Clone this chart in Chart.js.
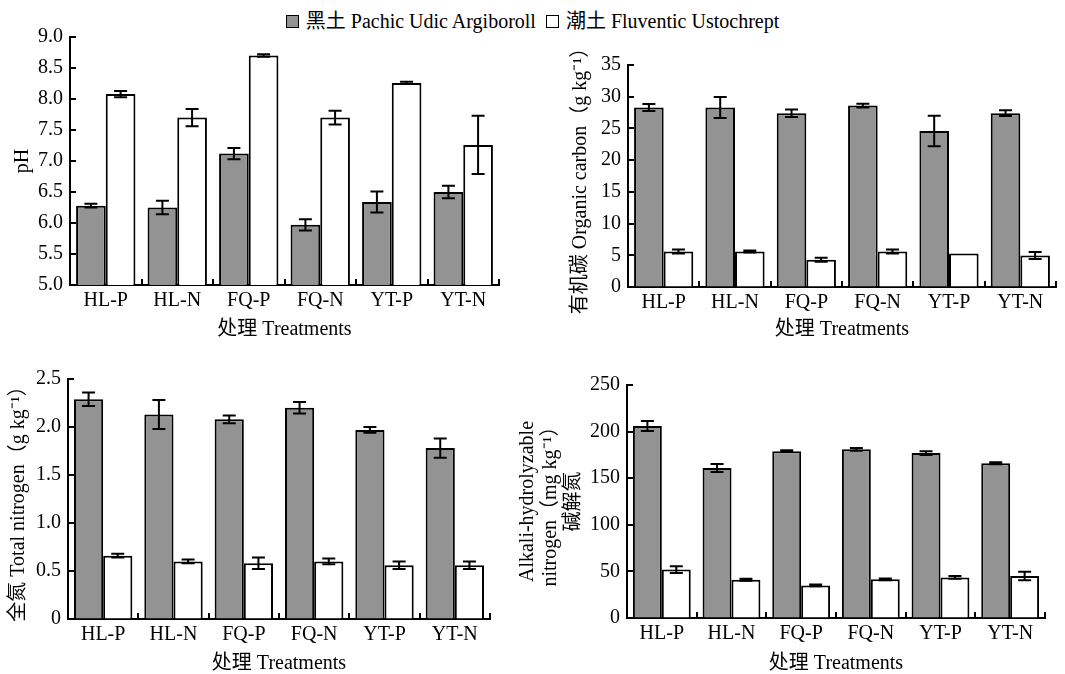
<!DOCTYPE html>
<html>
<head>
<meta charset="utf-8">
<script src="https://cdn.jsdelivr.net/npm/chart.js@4.4.1/dist/chart.umd.min.js"></script>
<style>
body { margin: 0; background: #fff; width: 1065px; height: 674px; overflow: hidden; position: relative;
       font-family: "Liberation Serif", "Noto Sans CJK SC", serif; }
canvas { position: absolute; }
#legend { position: absolute; top: 5px; left: 0; width: 1065px; text-align: center; font-size: 20px; color: #000; }
.box { display: inline-block; width: 11px; height: 11px; border: 1.5px solid #000; vertical-align: 0px; margin-right: 7px; }
</style>
</head>
<body>
<div id="legend"><span class="box" style="background:#939393"></span>黑土 Pachic Udic Argiboroll&nbsp;&nbsp;<span class="box" style="background:#fff"></span>潮土 Fluventic Ustochrept</div>
<canvas id="c1" width="530" height="345" style="left:0px;top:10px"></canvas>
<canvas id="c2" width="530" height="345" style="left:535px;top:10px"></canvas>
<canvas id="c3" width="530" height="330" style="left:0px;top:350px"></canvas>
<canvas id="c4" width="560" height="330" style="left:505px;top:350px"></canvas>
<script>
const categories = ['HL-P', 'HL-N', 'FQ-P', 'FQ-N', 'YT-P', 'YT-N'];
const seriesNames = ['黑土 Pachic Udic Argiboroll', '潮土 Fluventic Ustochrept'];

// pH
const phHei = [6.28, 6.25, 7.12, 5.97, 6.34, 6.50];
const phHeiErr = [0.03, 0.11, 0.09, 0.09, 0.17, 0.10];
const phChao = [8.08, 7.70, 8.70, 7.70, 8.26, 7.26];
const phChaoErr = [0.05, 0.14, 0.02, 0.11, 0.02, 0.47];
const phTicks = ['5.0', '5.5', '6.0', '6.5', '7.0', '7.5', '8.0', '8.5', '9.0'];

// organic carbon
const ocHei = [28.3, 28.3, 27.4, 28.6, 24.6, 27.4];
const ocHeiErr = [0.55, 1.65, 0.6, 0.3, 2.4, 0.45];
const ocChao = [5.6, 5.6, 4.3, 5.6, 5.3, 4.95];
const ocChaoErr = [0.3, 0.15, 0.3, 0.3, 0, 0.55];
const ocTicks = ['0', '5', '10', '15', '20', '25', '30', '35'];

// total nitrogen
const tnHei = [2.29, 2.13, 2.08, 2.20, 1.97, 1.78];
const tnHeiErr = [0.07, 0.15, 0.04, 0.06, 0.03, 0.10];
const tnChao = [0.66, 0.60, 0.58, 0.60, 0.56, 0.56];
const tnChaoErr = [0.02, 0.02, 0.06, 0.03, 0.04, 0.04];
const tnTicks = ['0', '0.5', '1.0', '1.5', '2.0', '2.5'];

// alkali-hydrolyzable nitrogen
const anHei = [206, 161, 179, 181, 177, 166];
const anHeiErr = [5.4, 4.3, 1, 1.5, 2, 1];
const anChao = [52, 41, 35, 41.5, 43.5, 45];
const anChaoErr = [3.6, 1, 1, 1, 1.5, 4.6];
const anTicks = ['0', '50', '100', '150', '200', '250'];

Chart.defaults.font.family = '"Liberation Serif", "Noto Sans CJK SC", serif';
Chart.defaults.color = '#000';

// short inward ticks on the y axis and between the categories
const axisMarks = {
    id: 'axisMarks',
    afterDatasetsDraw(chart) {
        const ctx = chart.ctx;
        const area = chart.chartArea;
        const x = chart.scales.x;
        const y = chart.scales.y;
        ctx.save();
        ctx.strokeStyle = '#000';
        ctx.lineWidth = 2;
        y.ticks.forEach(function(t) {
            const py = Math.round(y.getPixelForValue(t.value));
            ctx.beginPath();
            ctx.moveTo(area.left, py);
            ctx.lineTo(area.left + 6, py);
            ctx.stroke();
        });
        for (let i = 1; i <= x.ticks.length; i++) {
            const px = Math.round(x.getPixelForValue(i - 0.5));
            ctx.beginPath();
            ctx.moveTo(px, area.bottom);
            ctx.lineTo(px, area.bottom - 6);
            ctx.stroke();
        }
        ctx.restore();
    }
};

const errorBars = {
    id: 'errorBars',
    afterDatasetsDraw(chart) {
        const ctx = chart.ctx;
        const y = chart.scales.y;
        ctx.save();
        ctx.strokeStyle = '#000';
        ctx.lineWidth = 2;
        chart.data.datasets.forEach(function(ds, di) {
            const meta = chart.getDatasetMeta(di);
            meta.data.forEach(function(bar, i) {
                const e = ds.errors[i];
                if (!e) return;
                const top = y.getPixelForValue(ds.data[i] + e);
                const bot = y.getPixelForValue(ds.data[i] - e);
                ctx.beginPath();
                ctx.moveTo(bar.x, top); ctx.lineTo(bar.x, bot);
                ctx.moveTo(bar.x - 6.5, top); ctx.lineTo(bar.x + 6.5, top);
                ctx.moveTo(bar.x - 6.5, bot); ctx.lineTo(bar.x + 6.5, bot);
                ctx.stroke();
            });
        });
        ctx.restore();
    }
};

function makePanel(id, hei, heiErr, chao, chaoErr, yMin, yMax, yStep, yLabels, yTitle, lay) {
    return new Chart(document.getElementById(id), {
        type: 'bar',
        data: {
            labels: categories,
            datasets: [
                { label: seriesNames[0], data: hei, errors: heiErr, backgroundColor: '#939393',
                  borderColor: '#000', borderWidth: 2, barPercentage: 1.0, categoryPercentage: 0.83 },
                { label: seriesNames[1], data: chao, errors: chaoErr, backgroundColor: '#fff',
                  borderColor: '#000', borderWidth: 2, barPercentage: 1.0, categoryPercentage: 0.83 }
            ]
        },
        options: {
            responsive: false,
            animation: false,
            layout: { padding: { left: lay.padLeft, top: lay.padTop, right: lay.padRight, bottom: lay.padBottom } },
            plugins: { legend: { display: false }, tooltip: { enabled: false } },
            scales: {
                x: {
                    grid: { drawOnChartArea: false, drawTicks: false },
                    border: { color: '#000', width: 2 },
                    ticks: { font: { size: 20 }, padding: 4, maxRotation: 0, autoSkip: false },
                    title: { display: true, text: '处理 Treatments', font: { size: 20, lineHeight: '22px' }, padding: 0 },
                    afterFit: function(scale) { scale.height = lay.xHeight; }
                },
                y: {
                    min: yMin,
                    max: yMax,
                    grid: { drawOnChartArea: false, drawTicks: false },
                    border: { color: '#000', width: 2 },
                    ticks: {
                        stepSize: yStep,
                        font: { size: 20 },
                        padding: 7,
                        callback: function(value, index) { return yLabels[index]; }
                    },
                    title: { display: true, text: yTitle, font: { size: 20, lineHeight: '23px' }, padding: 0 },
                    afterFit: function(scale) { scale.width = lay.yWidth; }
                }
            }
        },
        plugins: [axisMarks, errorBars]
    });
}

makePanel('c1', phHei, phHeiErr, phChao, phChaoErr, 5, 9, 0.5, phTicks, 'pH',
    { padLeft: 11, yWidth: 59, padTop: 27, padRight: 31, xHeight: 56, padBottom: 14 });
makePanel('c2', ocHei, ocHeiErr, ocChao, ocChaoErr, 0, 35, 5, ocTicks, '有机碳 Organic carbon（g kg⁻¹）',
    { padLeft: 34, yWidth: 59, padTop: 55, padRight: 9, xHeight: 54, padBottom: 14 });
makePanel('c3', tnHei, tnHeiErr, tnChao, tnChaoErr, 0, 2.5, 0.5, tnTicks, '全氮 Total nitrogen（g kg⁻¹）',
    { padLeft: 7, yWidth: 61, padTop: 29, padRight: 40, xHeight: 56, padBottom: 5 });
makePanel('c4', anHei, anHeiErr, anChao, anChaoErr, 0, 250, 50, anTicks,
    ['Alkali-hydrolyzable', 'nitrogen（mg kg⁻¹）', '碱解氮'],
    { padLeft: 11, yWidth: 111, padTop: 35, padRight: 20, xHeight: 57, padBottom: 5 });
</script>
</body>
</html>
